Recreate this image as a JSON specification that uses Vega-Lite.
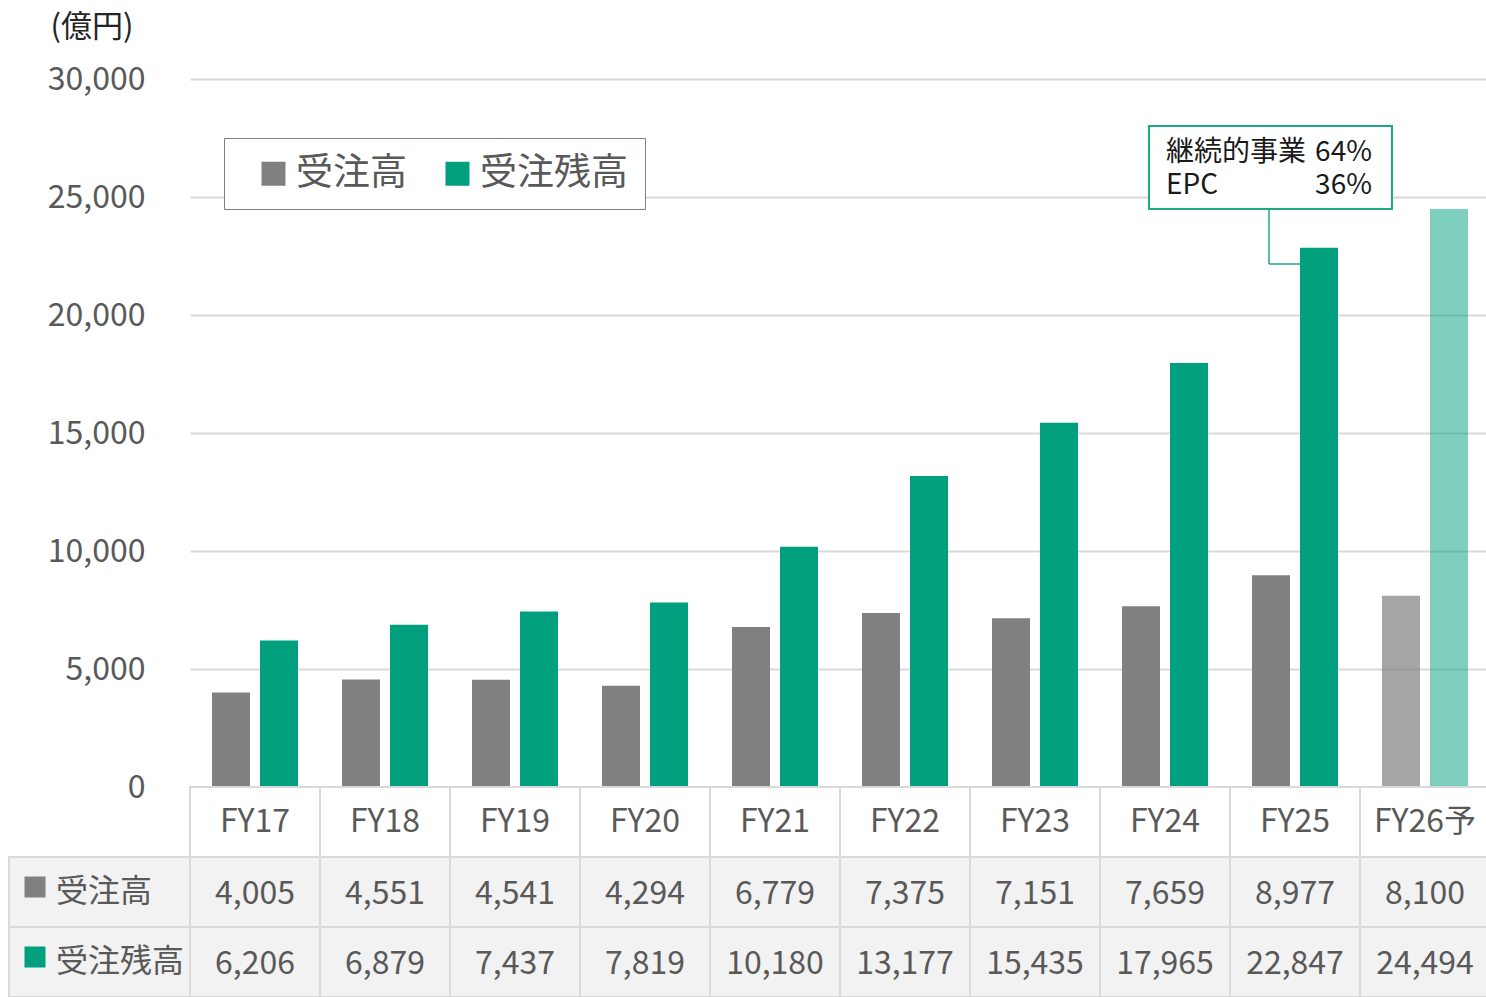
{
  "$schema": "https://vega.github.io/schema/vega-lite/v6.json",
  "background": "white",
  "padding": {"left": 8, "top": 11, "right": 0, "bottom": 0},
  "config": {"font": "Noto Sans CJK JP", "view": {"stroke": null}},
  "datasets": {
    "orders": [
      {"year": "FY17", "series": "受注高", "value": 4005},
      {"year": "FY17", "series": "受注残高", "value": 6206},
      {"year": "FY18", "series": "受注高", "value": 4551},
      {"year": "FY18", "series": "受注残高", "value": 6879},
      {"year": "FY19", "series": "受注高", "value": 4541},
      {"year": "FY19", "series": "受注残高", "value": 7437},
      {"year": "FY20", "series": "受注高", "value": 4294},
      {"year": "FY20", "series": "受注残高", "value": 7819},
      {"year": "FY21", "series": "受注高", "value": 6779},
      {"year": "FY21", "series": "受注残高", "value": 10180},
      {"year": "FY22", "series": "受注高", "value": 7375},
      {"year": "FY22", "series": "受注残高", "value": 13177},
      {"year": "FY23", "series": "受注高", "value": 7151},
      {"year": "FY23", "series": "受注残高", "value": 15435},
      {"year": "FY24", "series": "受注高", "value": 7659},
      {"year": "FY24", "series": "受注残高", "value": 17965},
      {"year": "FY25", "series": "受注高", "value": 8977},
      {"year": "FY25", "series": "受注残高", "value": 22847},
      {"year": "FY26予", "series": "受注高", "value": 8100},
      {"year": "FY26予", "series": "受注残高", "value": 24494}
    ]
  },
  "columns": 2,
  "spacing": 0,
  "bounds": "flush",
  "resolve": {"scale": {"x": "independent", "y": "independent", "color": "independent"}},
  "concat": [
    {"width": 181, "height": 708, "data": {"values": []}, "mark": "point"},
    {
      "width": 1300,
      "height": 708,
      "data": {"name": "orders"},
      "layer": [
        {
          "mark": {"type": "bar"},
          "encoding": {
            "x": {"field": "year", "type": "nominal", "scale": {"domain": ["FY17","FY18","FY19","FY20","FY21","FY22","FY23","FY24","FY25","FY26予"], "paddingInner": 0, "paddingOuter": 0}, "axis": null},
            "xOffset": {"field": "series", "type": "nominal", "scale": {"domain": ["受注高", "受注残高"], "paddingInner": 0.2083, "paddingOuter": 0.4583}},
            "y": {
              "field": "value", "type": "quantitative",
              "scale": {"domain": [0, 30000], "nice": false},
              "axis": {
                "values": [0, 5000, 10000, 15000, 20000, 25000, 30000],
                "labelExpr": "format(datum.value, ',')",
                "title": "(億円)",
                "titleAngle": 0, "titleAlign": "left", "titleBaseline": "top",
                "titleX": -140, "titleY": -67,
                "titleFontSize": 31, "titleFontWeight": "normal", "titleColor": "#262626",
                "labelFontSize": 32, "labelColor": "#595959", "labelPadding": 45,
                "ticks": false, "domain": false,
                "grid": true, "gridColor": "#d9d9d9", "gridWidth": 2
              }
            },
            "color": {
              "field": "series", "type": "nominal",
              "scale": {"domain": ["受注高", "受注残高"], "range": ["#808080", "#00a07f"]},
              "legend": {
                "title": null, "orient": "none", "legendX": 34, "legendY": 59,
                "direction": "horizontal", "symbolType": "square", "symbolSize": 576,
                "symbolStrokeWidth": 0, "symbolOpacity": 1,
                "labelFontSize": 37, "labelColor": "#595959",
                "fillColor": "white", "strokeColor": "#808080",
                "padding": 17, "symbolOffset": 14, "labelOffset": 4, "columnPadding": 18,
                "labelLimit": 300
              }
            },
            "opacity": {
              "condition": [
                {"test": "datum.year === 'FY26予' && datum.series === '受注高'", "value": 0.7},
                {"test": "datum.year === 'FY26予'", "value": 0.5}
              ],
              "value": 1
            }
          }
        },
        {
          "data": {"values": [{"year": "FY25"}]},
          "mark": {"type": "rect", "fill": "white", "stroke": "#1fa886", "strokeWidth": 2},
          "encoding": {
            "x": {"field": "year", "type": "nominal", "bandPosition": -0.623},
            "x2": {"field": "year", "bandPosition": 1.246},
            "y": {"datum": 28008, "type": "quantitative"},
            "y2": {"datum": 24492}
          }
        },
        {
          "data": {"values": [{"year": "FY25"}]},
          "mark": {"type": "rule", "color": "#1fa886", "strokeWidth": 1.5},
          "encoding": {
            "x": {"field": "year", "type": "nominal", "bandPosition": 0.3},
            "y": {"datum": 24492, "type": "quantitative"},
            "y2": {"datum": 22161}
          }
        },
        {
          "data": {"values": [{"year": "FY25"}]},
          "mark": {"type": "rule", "color": "#1fa886", "strokeWidth": 1.5},
          "encoding": {
            "x": {"field": "year", "type": "nominal", "bandPosition": 0.3},
            "x2": {"field": "year", "bandPosition": 0.538},
            "y": {"datum": 22161, "type": "quantitative"}
          }
        },
        {
          "data": {"values": [{"year": "FY25"}]},
          "mark": {"type": "text", "text": "継続的事業", "align": "left", "baseline": "top", "fontSize": 28, "color": "#1a1a1a"},
          "encoding": {
            "x": {"field": "year", "type": "nominal", "bandPosition": -0.492},
            "y": {"datum": 27457, "type": "quantitative"}
          }
        },
        {
          "data": {"values": [{"year": "FY25"}]},
          "mark": {"type": "text", "text": "EPC", "align": "left", "baseline": "top", "fontSize": 28, "color": "#1a1a1a"},
          "encoding": {
            "x": {"field": "year", "type": "nominal", "bandPosition": -0.492},
            "y": {"datum": 26059, "type": "quantitative"}
          }
        },
        {
          "data": {"values": [{"year": "FY25"}]},
          "mark": {"type": "text", "text": "64%", "align": "right", "baseline": "top", "fontSize": 28, "color": "#1a1a1a"},
          "encoding": {
            "x": {"field": "year", "type": "nominal", "bandPosition": 1.092},
            "y": {"datum": 27457, "type": "quantitative"}
          }
        },
        {
          "data": {"values": [{"year": "FY25"}]},
          "mark": {"type": "text", "text": "36%", "align": "right", "baseline": "top", "fontSize": 28, "color": "#1a1a1a"},
          "encoding": {
            "x": {"field": "year", "type": "nominal", "bandPosition": 1.092},
            "y": {"datum": 26059, "type": "quantitative"}
          }
        }
      ]
    },
    {
      "width": 181,
      "height": 210,
      "data": {"values": [{"series": "受注高"}, {"series": "受注残高"}]},
      "encoding": {
        "y": {"field": "series", "type": "nominal", "scale": {"domain": ["FY", "受注高", "受注残高"], "paddingInner": 0, "paddingOuter": 0}, "axis": null}
      },
      "layer": [
        {"mark": {"type": "rect", "fill": "#f2f2f2", "stroke": "#d9d9d9", "strokeWidth": 2}},
        {
          "mark": {"type": "square", "size": 441, "opacity": 1, "xOffset": -64.5, "yOffset": -5},
          "encoding": {
            "color": {"field": "series", "type": "nominal", "scale": {"domain": ["受注高", "受注残高"], "range": ["#808080", "#00a07f"]}, "legend": null}
          }
        },
        {
          "mark": {"type": "text", "align": "left", "fontSize": 32, "color": "#595959", "dx": -43.5},
          "encoding": {"text": {"field": "series", "type": "nominal"}}
        }
      ]
    },
    {
      "width": 1300,
      "height": 210,
      "data": {"name": "orders"},
      "layer": [
        {
          "transform": [{"filter": "datum.series === '受注高'"}],
          "mark": {"type": "rect", "fill": "white", "stroke": "#d9d9d9", "strokeWidth": 2},
          "encoding": {
            "x": {"field": "year", "type": "nominal", "scale": {"domain": ["FY17","FY18","FY19","FY20","FY21","FY22","FY23","FY24","FY25","FY26予"], "paddingInner": 0, "paddingOuter": 0}, "axis": null},
            "y": {"datum": "FY", "type": "nominal", "scale": {"domain": ["FY", "受注高", "受注残高"], "paddingInner": 0, "paddingOuter": 0}, "axis": null}
          }
        },
        {
          "transform": [{"filter": "datum.series === '受注高'"}],
          "mark": {"type": "text", "fontSize": 32, "color": "#595959"},
          "encoding": {
            "x": {"field": "year", "type": "nominal"},
            "y": {"datum": "FY", "type": "nominal"},
            "text": {"field": "year", "type": "nominal"}
          }
        },
        {
          "mark": {"type": "rect", "fill": "#f2f2f2", "stroke": "#d9d9d9", "strokeWidth": 2},
          "encoding": {
            "x": {"field": "year", "type": "nominal"},
            "y": {"field": "series", "type": "nominal"}
          }
        },
        {
          "mark": {"type": "text", "fontSize": 32, "color": "#595959", "dy": 2},
          "encoding": {
            "x": {"field": "year", "type": "nominal"},
            "y": {"field": "series", "type": "nominal"},
            "text": {"field": "value", "type": "quantitative", "format": ","}
          }
        }
      ]
    }
  ]
}
